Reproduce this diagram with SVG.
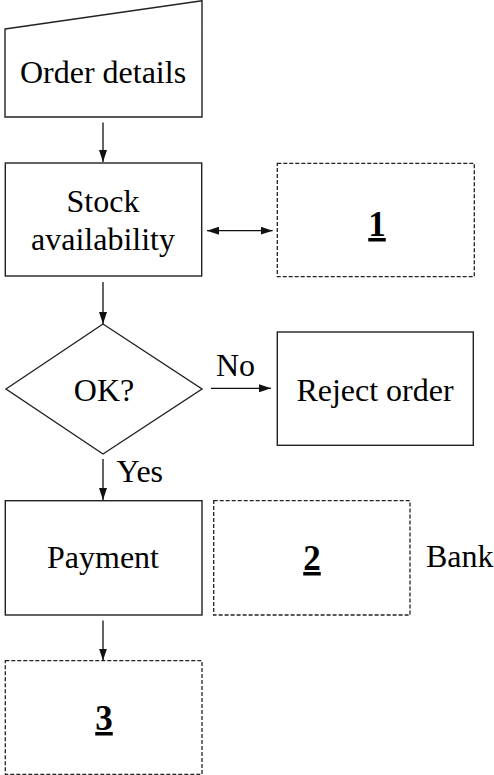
<svg xmlns="http://www.w3.org/2000/svg" width="494" height="775" viewBox="0 0 494 775">
  <defs>
    <marker id="arrow" viewBox="0 0 12 8" refX="12" refY="4" markerWidth="12" markerHeight="8" markerUnits="userSpaceOnUse" orient="auto-start-reverse">
      <path d="M0,0 L12,4 L0,8 Z" fill="#111"/>
    </marker>
    <style>
      .box { fill: #fff; stroke: #222; stroke-width: 1.4; }
      .dash { fill: #fff; stroke: #222; stroke-width: 1.3; stroke-dasharray: 4 2; }
      text { font-family: 'Liberation Serif', 'Times New Roman', Times, 'Nimbus Roman', 'DejaVu Serif', serif; fill: #000; }
      .lbl { font-size: 32px; text-anchor: middle; }
      .num { font-size: 35px; font-weight: bold; text-anchor: middle; text-decoration: underline; }
      .side { font-size: 32px; }
      .edge { fill: none; stroke: #111; stroke-width: 1.3; marker-end: url(#arrow); }
    </style>
  </defs>
  <rect width="494" height="775" fill="#fff"/>

  <g id="order-details">
    <polygon class="box" points="5,29 202,0.7 202,117 5,117"/>
    <text class="lbl" x="103" y="83">Order details</text>
  </g>

  <g id="stock-availability">
    <rect class="box" x="5.3" y="163" width="196.4" height="113"/>
    <text class="lbl" x="103" y="212">Stock</text>
    <text class="lbl" x="103" y="250">availability</text>
  </g>

  <g id="box-1">
    <rect class="dash" x="277.3" y="163.3" width="197" height="113.4"/>
    <text class="num" x="377" y="236">1</text>
  </g>

  <g id="ok-decision">
    <polygon class="box" points="6,389 103,324 202,389 103,454"/>
    <text class="lbl" x="104" y="401">OK?</text>
  </g>

  <g id="reject-order">
    <rect class="box" x="277.3" y="332" width="196" height="113.3"/>
    <text class="lbl" x="375" y="401">Reject order</text>
  </g>

  <g id="payment">
    <rect class="box" x="5.3" y="500.7" width="196.7" height="114.3"/>
    <text class="lbl" x="103" y="568">Payment</text>
  </g>

  <g id="box-2">
    <rect class="dash" x="213.7" y="500.7" width="196.3" height="114.3"/>
    <text class="num" x="312" y="570">2</text>
  </g>

  <g id="bank">
    <text class="side" x="426" y="567">Bank</text>
  </g>

  <g id="box-3">
    <rect class="dash" x="5.3" y="660.7" width="196.7" height="113.6"/>
    <text class="num" x="104" y="730">3</text>
  </g>

  <g id="connectors">
    <line class="edge" x1="103" y1="122.5" x2="103" y2="162"/>
    <line class="edge" x1="207" y1="230.7" x2="272.7" y2="230.7" style="marker-start: url(#arrow)"/>
    <line class="edge" x1="103" y1="282" x2="103" y2="324"/>
    <line class="edge" x1="211" y1="388.3" x2="271" y2="388.3"/>
    <text class="side" x="216" y="376">No</text>
    <line class="edge" x1="103" y1="459" x2="103" y2="500"/>
    <text class="side" x="116.5" y="482">Yes</text>
    <line class="edge" x1="103" y1="620.5" x2="103" y2="660.5"/>
  </g>
</svg>
